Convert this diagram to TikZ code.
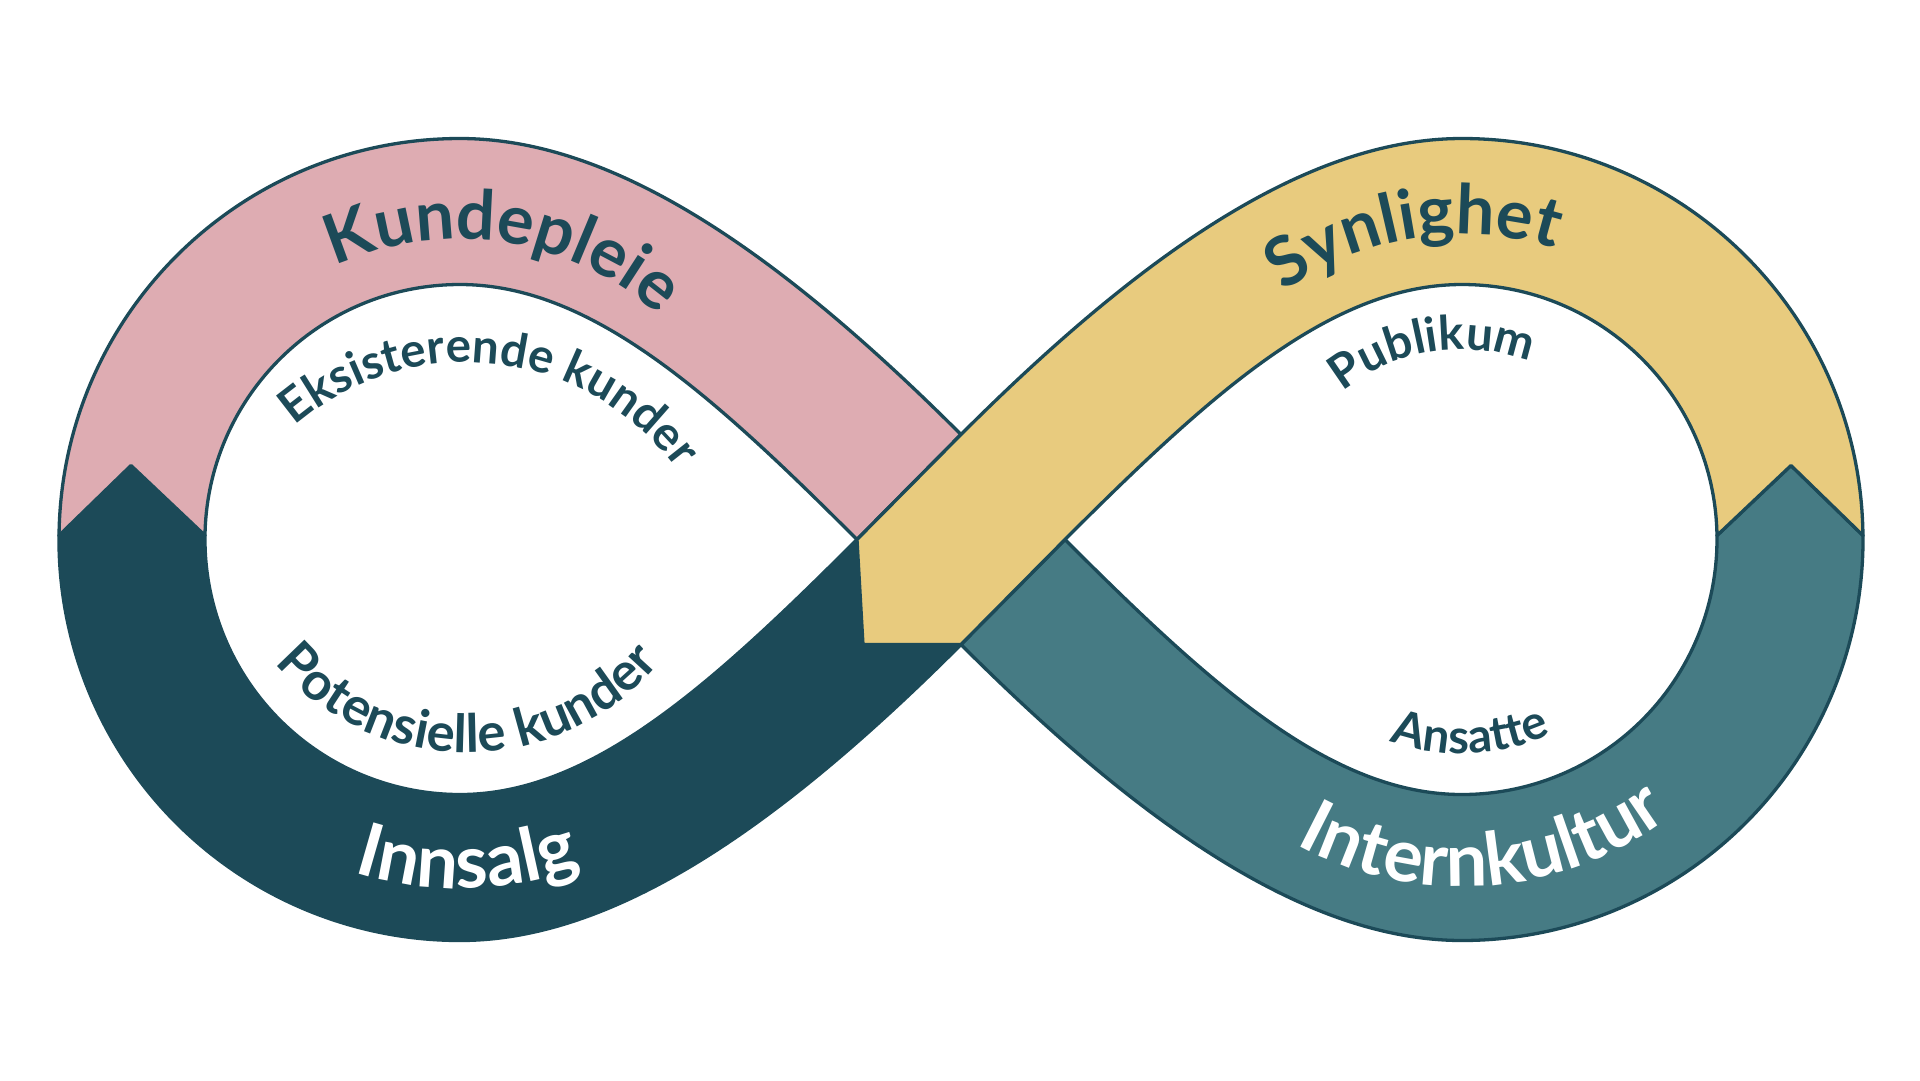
\documentclass[tikz,border=0pt]{standalone}
\usepackage{fontspec}
\setmainfont{Lato}
\usetikzlibrary{decorations.text}

\definecolor{rosa}{HTML}{DEACB2}
\definecolor{marine}{HTML}{1C4A58}
\definecolor{sennep}{HTML}{E8CB7E}
\definecolor{petrol}{HTML}{467B84}

\newcommand{\bandfont}{\bfseries\fontsize{19.5}{22}\selectfont}
\newcommand{\lowbandfont}{\bfseries\fontsize{21}{24}\selectfont}
\newcommand{\loopfont}{\bfseries\fontsize{13.5}{15}\selectfont}
\newcommand{\lowloopfont}{\bfseries\fontsize{15}{17}\selectfont}

\begin{document}
\begin{tikzpicture}[
    x = 0.1mm, y = 0.1mm,
    line join = round,
    %
    band/.style = {draw = marine, line width = 0.33mm},
    arctext/.style = {decorate,
      decoration = {text along path, text align = center,
        text color = marine, text = {#1}}},
    whitetext/.style = {decorate,
      decoration = {text along path, text align = center,
        text color = white, text = {#1}}},
    ]

    \useasboundingbox (-961, -540.5) rectangle (959, 539.5);
    \fill [white] (-961, -540.5) rectangle (959, 539.5);

    \coordinate (cL) at (-501, 0);
    \coordinate (cR) at (501, 0);
    \coordinate (cE) at (-495, -85);
    \coordinate (cP) at (-494, 39);

    % Innsalg
    \filldraw [band, fill = marine] (-756, 4) -- (-830, 74) -- (-902, 4)
    arc [start angle = 179.43, end angle = 270, radius = 401]
    .. controls (-352, -401) and (-190, -295) .. (0, -105)
    -- (-104, 0)
    .. controls (-250, -146) and (-370, -255) .. (-501, -255)
    arc [start angle = 270, end angle = 179.1, radius = 255]
    -- cycle;

    % Kundepleie
    \filldraw [band, fill = rosa] (-902, 4) -- (-830, 74) -- (-756, 4)
    arc [start angle = 179.1, end angle = 90, radius = 255]
    .. controls (-370, 255) and (-250, 146) .. (-104, 0)
    -- (0, 105)
    .. controls (-190, 295) and (-352, 401) .. (-501, 401)
    arc [start angle = 90, end angle = 179.43, radius = 401]
    -- cycle;

    % Internkultur
    \filldraw [band, fill = petrol] (756, 4) -- (830, 74) -- (902, 4)
    arc [start angle = 0.57, end angle = -90, radius = 401]
    .. controls (352, -401) and (190, -295) .. (0, -105)
    -- (104, 0)
    .. controls (250, -146) and (370, -255) .. (501, -255)
    arc [start angle = -90, end angle = 0.9, radius = 255]
    -- cycle;

    % Synlighet
    \filldraw [band, fill = sennep] (902, 4) -- (830, 74) -- (756, 4)
    arc [start angle = 0.9, end angle = 90, radius = 255]
    .. controls (370, 255) and (250, 146) .. (104, 0)
    -- (0, -105) -- (-98, -105) -- (-104, 0) -- (0, 105)
    .. controls (190, 295) and (352, 401) .. (501, 401)
    arc [start angle = 90, end angle = 0.57, radius = 401]
    -- cycle;

    % band labels
    \path [arctext = {|\bandfont|Kundepleie}]
    ([shift = {(140:300)}] cL) arc [start angle = 140, end angle = 23, radius = 300];
    \path [arctext = {|\bandfont|Synlighet}]
    ([shift = {(160:305)}] cR) arc [start angle = 160, end angle = 38, radius = 305];
    \path [whitetext = {|\lowbandfont|Innsalg}]
    ([shift = {(220:349)}] cL) arc [start angle = 220, end angle = 322.6, radius = 349];
    \path [whitetext = {|\lowbandfont|Internkultur}]
    ([shift = {(220:347)}] cR) arc [start angle = 220, end angle = 328, radius = 347];

    % loop labels
    \path [arctext = {|\loopfont|Eksisterende kunder}]
    ([shift = {(160:262)}] cE) arc [start angle = 160, end angle = 7.2, radius = 262];
    \path [arctext = {|\lowloopfont|Potensielle kunder}]
    ([shift = {(200:252)}] cP) arc [start angle = 200, end angle = 340, radius = 252];
    \path [arctext = {|\loopfont|Publikum}]
    ([shift = {(160:190)}] cR) arc [start angle = 160, end angle = 38, radius = 190];
    \path [arctext = {|\loopfont|Ansatte}]
    ([shift = {(200:214)}] cR) arc [start angle = 200, end angle = 345, radius = 214];

\end{tikzpicture}
\end{document}
